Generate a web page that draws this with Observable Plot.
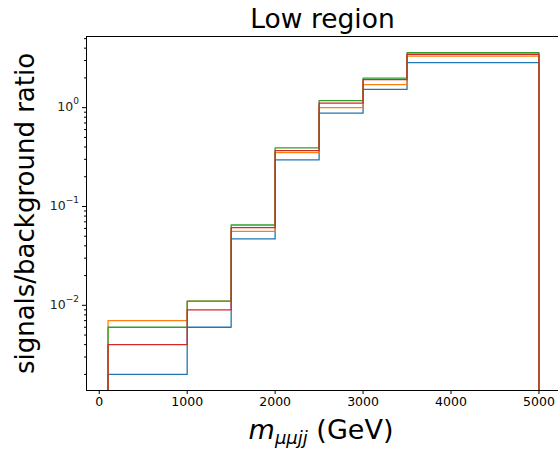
<!DOCTYPE html>
<html><head><meta charset="utf-8">
<script src="https://cdn.jsdelivr.net/npm/d3@7"></script>
<script src="https://cdn.jsdelivr.net/npm/@observablehq/plot@0.6"></script>
<style>body{margin:0;background:#fff}</style>
</head><body><div id="chart"></div>
<script>
const binEdges = [100, 1000, 1500, 2000, 2500, 3000, 3500, 5000];
const seriesNames = ["signal 1", "signal 2", "signal 3", "signal 4"];
const seriesColors = ["#1f77b4", "#ff7f0e", "#2ca02c", "#d62728"];
const blueValues   = [0.002, 0.006, 0.047, 0.296, 0.88, 1.53, 2.86];
const orangeValues = [0.007, 0.011, 0.056, 0.351, 1.00, 1.71, 3.33];
const greenValues  = [0.006, 0.011, 0.065, 0.392, 1.18, 1.99, 3.60];
const redValues    = [0.004, 0.009, 0.061, 0.367, 1.11, 1.92, 3.47];
const xTicks = [0, 1000, 2000, 3000, 4000, 5000];
const yMajorTicks = [0.01, 0.1, 1];
const yMajorExponents = ["−2", "−1", "0"];
const yMinorTicks = [0.002, 0.003, 0.004, 0.005, 0.006, 0.007, 0.008, 0.009,
  0.02, 0.03, 0.04, 0.05, 0.06, 0.07, 0.08, 0.09,
  0.2, 0.3, 0.4, 0.5, 0.6, 0.7, 0.8, 0.9, 2, 3, 4, 5];
const yDomain = [0.001374, 5.25];
const xDomain = [-145, 5245];

const allValues = [blueValues, orangeValues, greenValues, redValues];
const rows = [];
seriesNames.forEach((s, k) => {
  const v = allValues[k];
  rows.push({s, x: binEdges[0], y: yDomain[0]});
  v.forEach((val, i) => rows.push({s, x: binEdges[i], y: val}));
  rows.push({s, x: binEdges[binEdges.length - 1], y: v[v.length - 1]});
  rows.push({s, x: binEdges[binEdges.length - 1], y: yDomain[0]});
});

const plot = Plot.plot({
  width: 558, height: 450,
  marginLeft: 86, marginRight: 0, marginTop: 36, marginBottom: 60,
  style: {fontFamily: "DejaVu Sans", fontSize: "12.5px", color: "black", background: "white"},
  x: {domain: xDomain, range: [86, 560]},
  y: {type: "log", domain: yDomain},
  color: {domain: seriesNames, range: seriesColors},
  marks: [
    Plot.line(rows, {x: "x", y: "y", z: "s", stroke: "s", curve: "step-after", strokeWidth: 1.3, clip: true}),
    Plot.frame({anchor: "top", stroke: "black"}),
    Plot.frame({anchor: "left", stroke: "black"}),
    Plot.frame({anchor: "bottom", stroke: "black"}),
    Plot.axisX(xTicks, {tickSize: 4, tickPadding: 3, label: null, fontSize: 12.5, tickFormat: d => String(d)}),
    Plot.axisY(yMajorTicks, {tickSize: 4, label: null, tickFormat: () => ""}),
    Plot.axisY(yMinorTicks, {tickSize: 2, label: null, tickFormat: () => ""}),
    Plot.text(["Low region"], {frameAnchor: "top", dy: -17, fontSize: 26.5, lineAnchor: "middle"}),
    Plot.text(["signals/background ratio"], {frameAnchor: "left", rotate: -90, dx: -61, fontSize: 26, lineAnchor: "middle", textAnchor: "middle"})
  ]
});

const svg = d3.select(plot);
const yScale = plot.scale("y");
yMajorTicks.forEach((v, i) => {
  const lbl = svg.append("text")
    .attr("x", 79).attr("y", yScale.apply(v)).attr("dy", "0.32em")
    .attr("text-anchor", "end")
    .attr("font-size", 12.5).attr("font-family", "DejaVu Sans").attr("fill", "#222");
  lbl.append("tspan").text("10");
  lbl.append("tspan").attr("font-size", 9).attr("dy", "-0.8em").text(yMajorExponents[i]);
});

const t = svg.append("text")
  .attr("x", 321).attr("y", 439)
  .attr("text-anchor", "middle")
  .attr("font-size", 27)
  .attr("font-family", "DejaVu Sans")
  .attr("fill", "black");
t.append("tspan").attr("font-style", "italic").text("m");
t.append("tspan").attr("font-style", "italic").attr("font-size", 18).attr("dy", 5).text("μμjj");
t.append("tspan").attr("dy", -5).text(" (GeV)");

document.getElementById("chart").appendChild(plot);
</script>
</body></html>
